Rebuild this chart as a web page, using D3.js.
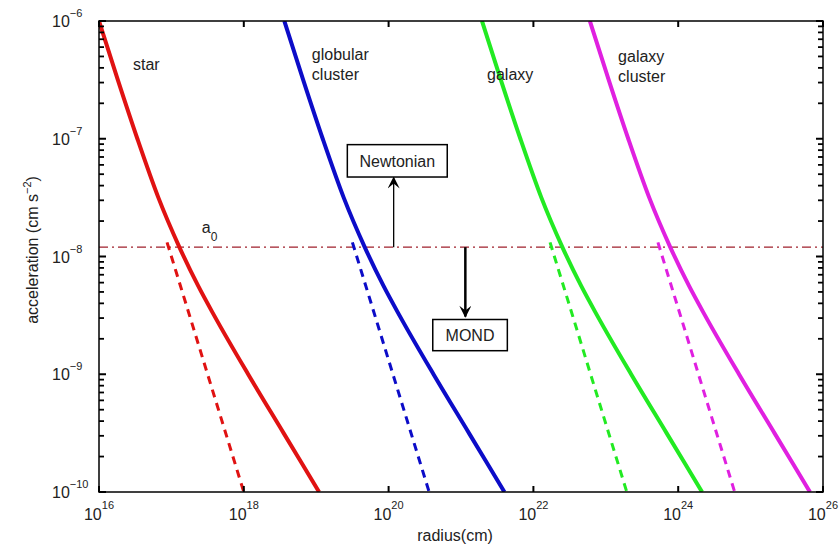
<!DOCTYPE html>
<html lang="en">
<head>
<meta charset="UTF-8"/>
<title>MOND acceleration vs radius</title>
<script src="https://d3js.org/d3.v7.min.js"></script>
<style>
    body { margin: 0; background: #fff; }
    text { font-family: "Liberation Sans", Arial, Helvetica, sans-serif; fill: #222; }
</style>
</head>
<body>
<script>
    //chart size and plot box (window.top is reserved, so use plot* names)
    var w = 840;
    var h = 549;
    var plotLeft = 99, plotRight = 823, plotTop = 21, plotBottom = 492;

    //tick exponents
    var xTickExp = [16, 18, 20, 22, 24, 26];
    var yTickExp = [-10, -9, -8, -7, -6];

    //MOND critical acceleration (cm s^-2)
    var a0 = 1.2e-8;

    //log10 of acceleration for the solid (MOND) curves
    var accelLog = [-6, -6.5, -7, -7.5, -7.92, -8.25, -8.5, -9, -9.5, -10];
    //log10 of radius at those accelerations
    var starMond = [16.00, 16.26, 16.53, 16.82, 17.11, 17.37, 17.59, 18.06, 18.55, 19.04];
    var globMond = [18.56, 18.82, 19.09, 19.38, 19.67, 19.93, 20.15, 20.62, 21.11, 21.60];
    var galMond = [21.29, 21.55, 21.82, 22.11, 22.40, 22.66, 22.88, 23.35, 23.84, 24.33];
    var clusMond = [22.78, 23.04, 23.31, 23.60, 23.89, 24.15, 24.37, 24.84, 25.33, 25.82];

    //dashed Newtonian continuations below a0
    var newtAccelLog = [-7.88, -10];
    var starNewt = [16.94, 18.00];
    var globNewt = [19.50, 20.56];
    var galNewt = [22.23, 23.29];
    var clusNewt = [23.72, 24.78];

    var series = [
        { color: "#e01212", mond: starMond, newt: starNewt },
        { color: "#0c0cc8", mond: globMond, newt: globNewt },
        { color: "#22ea22", mond: galMond, newt: galNewt },
        { color: "#e020e0", mond: clusMond, newt: clusNewt }
    ];

    //scales
    var xScale = d3.scaleLog().domain([1e16, 1e26]).range([plotLeft, plotRight]);
    var yScale = d3.scaleLog().domain([1e-10, 1e-6]).range([plotBottom, plotTop]);

    function px(e) { return xScale(Math.pow(10, e)); }
    function py(e) { return yScale(Math.pow(10, e)); }

    var svg = d3.select("body")
        .append("svg")
        .attr("width", w)
        .attr("height", h);

    svg.append("rect").attr("width", w).attr("height", h).attr("fill", "#fff");

    var defs = svg.append("defs");
    defs.append("clipPath").attr("id", "plot")
        .append("rect")
        .attr("x", plotLeft).attr("y", plotTop)
        .attr("width", plotRight - plotLeft).attr("height", plotBottom - plotTop);

    //arrow head
    defs.append("marker").attr("id", "head")
        .attr("viewBox", "0 0 10 10").attr("refX", 9).attr("refY", 5)
        .attr("markerUnits", "userSpaceOnUse")
        .attr("markerWidth", 14).attr("markerHeight", 12)
        .attr("orient", "auto")
        .append("path").attr("d", "M0,0 L10,5 L0,10 L4,5 Z").attr("fill", "#000");

    var line = d3.line()
        .x(function (d) { return px(d[0]); })
        .y(function (d) { return py(d[1]); })
        .curve(d3.curveMonotoneX);

    var g = svg.append("g").attr("clip-path", "url(#plot)");

    //a0 dash-dot line
    g.append("line")
        .attr("x1", xScale(1e16)).attr("x2", xScale(1e26))
        .attr("y1", yScale(a0)).attr("y2", yScale(a0))
        .attr("stroke", "#a0202c")
        .attr("stroke-width", 1.3)
        .attr("stroke-dasharray", "9,4,2,4");

    //dashed Newtonian lines
    g.selectAll(".newt")
        .data(series)
        .enter()
        .append("path")
        .attr("class", "newt")
        .attr("d", function (d) {
            return line(d.newt.map(function (r, i) { return [r, newtAccelLog[i]]; }));
        })
        .attr("fill", "none")
        .attr("stroke", function (d) { return d.color; })
        .attr("stroke-width", 3)
        .attr("stroke-dasharray", "8,6");

    //solid MOND curves
    g.selectAll(".mond")
        .data(series)
        .enter()
        .append("path")
        .attr("class", "mond")
        .attr("d", function (d) {
            return line(d.mond.map(function (r, i) { return [r, accelLog[i]]; }));
        })
        .attr("fill", "none")
        .attr("stroke", function (d) { return d.color; })
        .attr("stroke-width", 4);

    //axes box
    svg.append("rect")
        .attr("x", plotLeft).attr("y", plotTop)
        .attr("width", plotRight - plotLeft).attr("height", plotBottom - plotTop)
        .attr("fill", "none")
        .attr("stroke", "#000")
        .attr("stroke-width", 1.5);

    //x ticks (inside, top and bottom)
    xTickExp.forEach(function (e) {
        var x = px(e);
        svg.append("line").attr("x1", x).attr("x2", x).attr("y1", plotBottom).attr("y2", plotBottom - 6)
            .attr("stroke", "#000").attr("stroke-width", 2);
        svg.append("line").attr("x1", x).attr("x2", x).attr("y1", plotTop).attr("y2", plotTop + 6)
            .attr("stroke", "#000").attr("stroke-width", 2);
        var t = svg.append("text")
            .attr("x", x)
            .attr("y", plotBottom + 28)
            .attr("text-anchor", "middle")
            .attr("font-size", "16px");
        t.append("tspan").text("10");
        t.append("tspan").attr("dy", -11).attr("font-size", "11px").text(e);
    });

    //y ticks, major and minor, left and right
    yTickExp.forEach(function (e) {
        var y = py(e);
        [[plotLeft, 1], [plotRight, -1]].forEach(function (s) {
            svg.append("line").attr("x1", s[0]).attr("x2", s[0] + s[1] * 7).attr("y1", y).attr("y2", y)
                .attr("stroke", "#000").attr("stroke-width", 2);
        });
        var t = svg.append("text")
            .attr("x", 52)
            .attr("y", y + 6)
            .attr("font-size", "16px");
        t.append("tspan").text("10");
        t.append("tspan").attr("dy", -10).attr("font-size", "11px").text(String(e).replace("-", "\u2212"));
        if (e < -6) {
            for (var k = 2; k <= 9; k++) {
                var ym = yScale(k * Math.pow(10, e));
                [[plotLeft, 1], [plotRight, -1]].forEach(function (s) {
                    svg.append("line").attr("x1", s[0]).attr("x2", s[0] + s[1] * 5).attr("y1", ym).attr("y2", ym)
                        .attr("stroke", "#000").attr("stroke-width", 1.8);
                });
            }
        }
    });

    //axis titles
    svg.append("text")
        .attr("x", 455)
        .attr("y", 541)
        .attr("text-anchor", "middle")
        .attr("font-size", "16px")
        .text("radius(cm)");

    var yl = svg.append("text")
        .attr("transform", "translate(38," + 250 + ") rotate(-90)")
        .attr("text-anchor", "middle")
        .attr("font-size", "16px");
    yl.append("tspan").text("acceleration (cm s");
    yl.append("tspan").attr("dy", -7).attr("font-size", "11px").text("\u22122");
    yl.append("tspan").attr("dy", 7).text(")");

    //curve labels [text lines, log r, log a of first baseline]
    var curveLabels = [
        [["star"], 16.47, -6.42],
        [["globular", "cluster"], 18.94, -6.33],
        [["galaxy"], 21.36, -6.50],
        [["galaxy", "cluster"], 23.17, -6.35]
    ];
    curveLabels.forEach(function (c) {
        var t = svg.append("text")
            .attr("x", px(c[1]))
            .attr("y", py(c[2]))
            .attr("font-size", "16px");
        c[0].forEach(function (s, i) {
            t.append("tspan")
                .attr("x", px(c[1]))
                .attr("dy", i === 0 ? 0 : 20)
                .text(s);
        });
    });

    //a0 label
    var al = svg.append("text")
        .attr("x", px(17.42))
        .attr("y", py(-7.80))
        .attr("font-size", "16px");
    al.append("tspan").text("a");
    al.append("tspan").attr("dy", 8).attr("font-size", "12px").text("0");

    //Newtonian arrow and box
    var nx = px(20.07);
    svg.append("line")
        .attr("x1", nx).attr("x2", nx)
        .attr("y1", yScale(a0)).attr("y2", py(-7.33))
        .attr("stroke", "#000").attr("stroke-width", 1.3)
        .attr("marker-end", "url(#head)");
    svg.append("rect")
        .attr("x", px(19.43))
        .attr("y", py(-7.05))
        .attr("width", px(20.81) - px(19.43))
        .attr("height", py(-7.325) - py(-7.05))
        .attr("fill", "#fff").attr("stroke", "#000").attr("stroke-width", 1.5);
    svg.append("text")
        .attr("x", (px(19.43) + px(20.81)) / 2)
        .attr("y", py(-7.05) + 22)
        .attr("text-anchor", "middle")
        .attr("font-size", "16px")
        .text("Newtonian");

    //MOND arrow and box
    var mx = px(21.06);
    svg.append("line")
        .attr("x1", mx).attr("x2", mx)
        .attr("y1", yScale(a0)).attr("y2", py(-8.51))
        .attr("stroke", "#000").attr("stroke-width", 2.5)
        .attr("marker-end", "url(#head)");
    svg.append("rect")
        .attr("x", px(20.61))
        .attr("y", py(-8.535))
        .attr("width", px(21.64) - px(20.61))
        .attr("height", py(-8.80) - py(-8.535))
        .attr("fill", "#fff").attr("stroke", "#000").attr("stroke-width", 1.5);
    svg.append("text")
        .attr("x", (px(20.61) + px(21.64)) / 2)
        .attr("y", py(-8.535) + 22)
        .attr("text-anchor", "middle")
        .attr("font-size", "16px")
        .text("MOND");
</script>
</body>
</html>
